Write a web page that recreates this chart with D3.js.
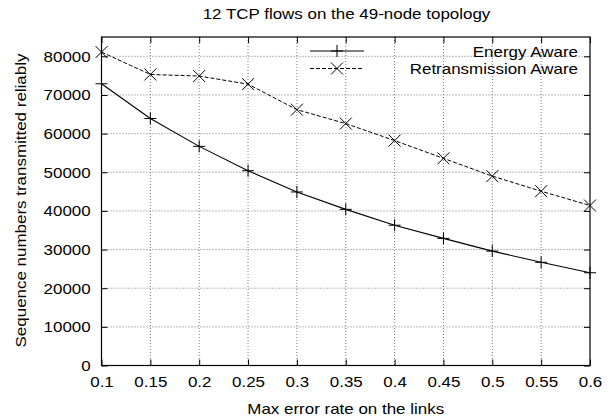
<!DOCTYPE html>
<html><head><meta charset="utf-8">
<script src="https://cdn.jsdelivr.net/npm/d3@7"></script>
<style>body{margin:0;background:#fff}svg{display:block}text{font-family:"Liberation Sans",Arial,sans-serif;fill:#000}</style>
</head><body><svg id="c" width="616" height="420"></svg>
<script>
const xValues = [0.1,0.15,0.2,0.25,0.3,0.35,0.4,0.45,0.5,0.55,0.6];
const energyAware = [72900,63900,56700,50400,44900,40400,36300,32900,29600,26700,24000];
const retransAware = [81100,75300,74900,72800,66200,62600,58200,53600,49000,45100,41400];
const xTicks = [0.1,0.15,0.2,0.25,0.3,0.35,0.4,0.45,0.5,0.55,0.6];
const yTicks = [0,10000,20000,30000,40000,50000,60000,70000,80000];
const seriesNames = ["Energy Aware","Retransmission Aware"];

const svg = d3.select("#c");
const L=101.5, R=590, T=37, B=365.5;
const FS=15, SX=1.13;
const x = d3.scaleLinear().domain([0.1,0.6]).range([L,R]);
const y = d3.scaleLinear().domain([0,85000]).range([B,T]);

// grid
const g = svg.append("g");
g.selectAll(".gx").data(xTicks.slice(1,-1)).enter().append("line")
 .attr("x1",d=>x(d)).attr("x2",d=>x(d)).attr("y1",T).attr("y2",B)
 .attr("stroke","#777").attr("stroke-width",1).attr("stroke-dasharray","1,2");
g.selectAll(".gy").data(yTicks.slice(1)).enter().append("line")
 .attr("x1",L).attr("x2",R).attr("y1",d=>y(d)).attr("y2",d=>y(d))
 .attr("stroke","#777").attr("stroke-width",1).attr("stroke-dasharray","1,2");

// axes
const xb = svg.append("g").attr("transform",`translate(0,${B})`)
 .call(d3.axisBottom(x).tickValues(xTicks).tickSizeInner(-6).tickSizeOuter(0).tickPadding(10.5).tickFormat(d3.format("")));
const xt = svg.append("g").attr("transform",`translate(0,${T})`)
 .call(d3.axisTop(x).tickValues(xTicks).tickSizeInner(-6).tickSizeOuter(0).tickFormat(""));
const yl = svg.append("g").attr("transform",`translate(${L},0)`)
 .call(d3.axisLeft(y).tickValues(yTicks).tickSizeInner(-6).tickSizeOuter(0).tickPadding(10.8).tickFormat(d3.format("d")));
const yr = svg.append("g").attr("transform",`translate(${R},0)`)
 .call(d3.axisRight(y).tickValues(yTicks).tickSizeInner(-6).tickSizeOuter(0).tickFormat(""));
[xb,xt,yl,yr].forEach(a=>{
  a.select(".domain").remove();
  a.selectAll("line").attr("stroke","#000");
  a.selectAll("text").style("font-size",FS+"px").style("font-family","Liberation Sans, Arial, sans-serif")
   .each(function(){const t=d3.select(this);const xv=+t.attr("x")||0;t.attr("x",xv/SX).attr("transform",`scale(${SX},1)`);});
});
svg.append("rect").attr("x",L).attr("y",T).attr("width",R-L).attr("height",B-T).attr("fill","none").attr("stroke","#000").attr("stroke-width",1.2);

// lines
const line = d3.line().x((d,i)=>x(xValues[i])).y(d=>y(d));
svg.append("path").datum(energyAware).attr("d",line).attr("fill","none").attr("stroke","#000").attr("stroke-width",1.1);
svg.append("path").datum(retransAware).attr("d",line).attr("fill","none").attr("stroke","#000").attr("stroke-width",1).attr("stroke-dasharray","4,2");

function plus(sel,cx,cy,s){sel.append("path").attr("d",`M${cx-s},${cy}H${cx+s}M${cx},${cy-s}V${cy+s}`).attr("stroke","#000").attr("stroke-width",1);}
function cross(sel,cx,cy,s){sel.append("path").attr("d",`M${cx-s},${cy-s}L${cx+s},${cy+s}M${cx-s},${cy+s}L${cx+s},${cy-s}`).attr("stroke","#000").attr("stroke-width",1);}
energyAware.forEach((v,i)=>plus(svg,x(xValues[i]),y(v),6));
retransAware.forEach((v,i)=>cross(svg,x(xValues[i]),y(v),6));

// legend
const lx1=310, lx2=364, ly1=51, ly2=68.5;
svg.append("line").attr("x1",lx1).attr("x2",lx2).attr("y1",ly1).attr("y2",ly1).attr("stroke","#000").attr("stroke-width",1.1);
plus(svg,(lx1+lx2)/2,ly1,6);
svg.append("line").attr("x1",lx1).attr("x2",lx2).attr("y1",ly2).attr("y2",ly2).attr("stroke","#000").attr("stroke-dasharray","4,2");
cross(svg,(lx1+lx2)/2,ly2,6);
function stext(px,py,anchor,str,rot){
  const t=svg.append("text").attr("text-anchor",anchor).style("font-size",FS+"px")
   .attr("transform",`translate(${px},${py})${rot?" rotate(-90)":""} scale(${SX},1)`).text(str);
  return t;
}
stext(578,56.5,"end",seriesNames[0]);
stext(578,73.5,"end",seriesNames[1]);

// titles
stext(346.5,18.5,"middle","12 TCP flows on the 49-node topology");
stext(345.7,414,"middle","Max error rate on the links");
stext(26,200.5,"middle","Sequence numbers transmitted reliably",true);
</script></body></html>
